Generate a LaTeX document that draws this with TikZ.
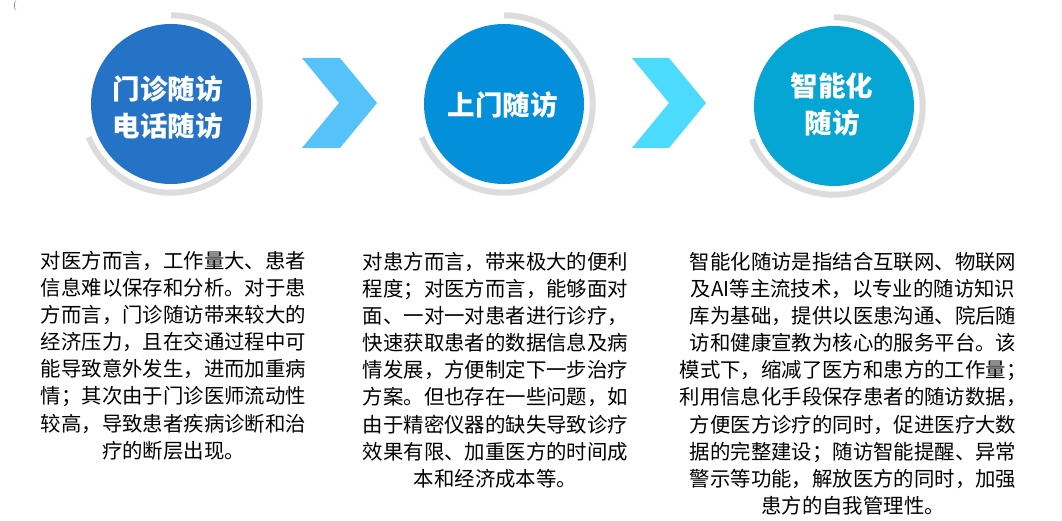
\documentclass[tikz,border=0pt]{standalone}
\usepackage{fontspec}
\newfontfamily\cjk{Noto Sans CJK SC}
\definecolor{cA}{HTML}{2473C6}
\definecolor{cB}{HTML}{048FDA}
\definecolor{cC}{HTML}{05A6D3}
\definecolor{chA}{HTML}{55C3FA}
\definecolor{chB}{HTML}{4CDBFD}
\definecolor{ringgray}{HTML}{DCDCDC}
\tikzset{
  disc/.style={circle, minimum size=160pt, inner sep=0pt, text=white, align=center, font=\cjk\bfseries\fontsize{27.5}{37}\selectfont},
  ring/.style={draw=ringgray, line width=6pt},
  body/.style={inner sep=0pt, anchor=north, align=center, font=\cjk\fontsize{20.4}{27.1}\selectfont, text=black}
}
\begin{document}
\begin{tikzpicture}[x=1pt,y=1pt]
\useasboundingbox (0,0) rectangle (1062,-521);
\fill[white] (0,0) rectangle (1062,-521);
\node[text=darkgray, font=\fontsize{10}{12}\selectfont, inner sep=0pt] (paren) at (15,-6) {(};
% circles
\node[disc, fill=cA] (c1) at (171,-104) {};
\node[disc, fill=cB] (c2) at (504,-104) {};
\node[disc, fill=cC] (c3) at (834,-106) {};
\foreach \c in {c1,c2,c3}{
  \draw[ring] (\c.center) ++(90:88.7) arc[start angle=90, end angle=-158, radius=88.7];
}
\node[disc, minimum size=0pt] (l1) at (167.5,-107) {门诊随访\\电话随访};
\node[disc, minimum size=0pt] (l2) at (502.5,-105) {上门随访};
\node[disc, minimum size=0pt] (l3) at (832,-105) {智能化\\随访};
% chevrons
\fill[chA] (302,-58) -- (340,-58) -- (377,-103) -- (340,-148) -- (302,-148) -- (339,-103) -- cycle;
\fill[chB] (632,-58) -- (669,-58) -- (706,-103) -- (669,-148) -- (632,-148) -- (669,-103) -- cycle;
% body texts
\node[body] (t1) at (173.5,-251) {对医方而言，工作量大、患者\\信息难以保存和分析。对于患\\方而言，门诊随访带来较大的\\经济压力，且在交通过程中可\\能导致意外发生，进而加重病\\情；其次由于门诊医师流动性\\较高，导致患者疾病诊断和治\\疗的断层出现。};
\node[body] (t2) at (495.5,-252) {对患方而言，带来极大的便利\\程度；对医方而言，能够面对\\面、一对一对患者进行诊疗，\\快速获取患者的数据信息及病\\情发展，方便制定下一步治疗\\方案。但也存在一些问题，如\\由于精密仪器的缺失导致诊疗\\效果有限、加重医方的时间成\\本和经济成本等。};
\node[body] (t3) at (853,-252) {智能化随访是指结合互联网、物联网\\及AI等主流技术，以专业的随访知识\\库为基础，提供以医患沟通、院后随\\访和健康宣教为核心的服务平台。该\\模式下，缩减了医方和患方的工作量；\\利用信息化手段保存患者的随访数据，\\方便医方诊疗的同时，促进医疗大数\\据的完整建设；随访智能提醒、异常\\警示等功能，解放医方的同时，加强\\患方的自我管理性。};
\end{tikzpicture}
\end{document}
